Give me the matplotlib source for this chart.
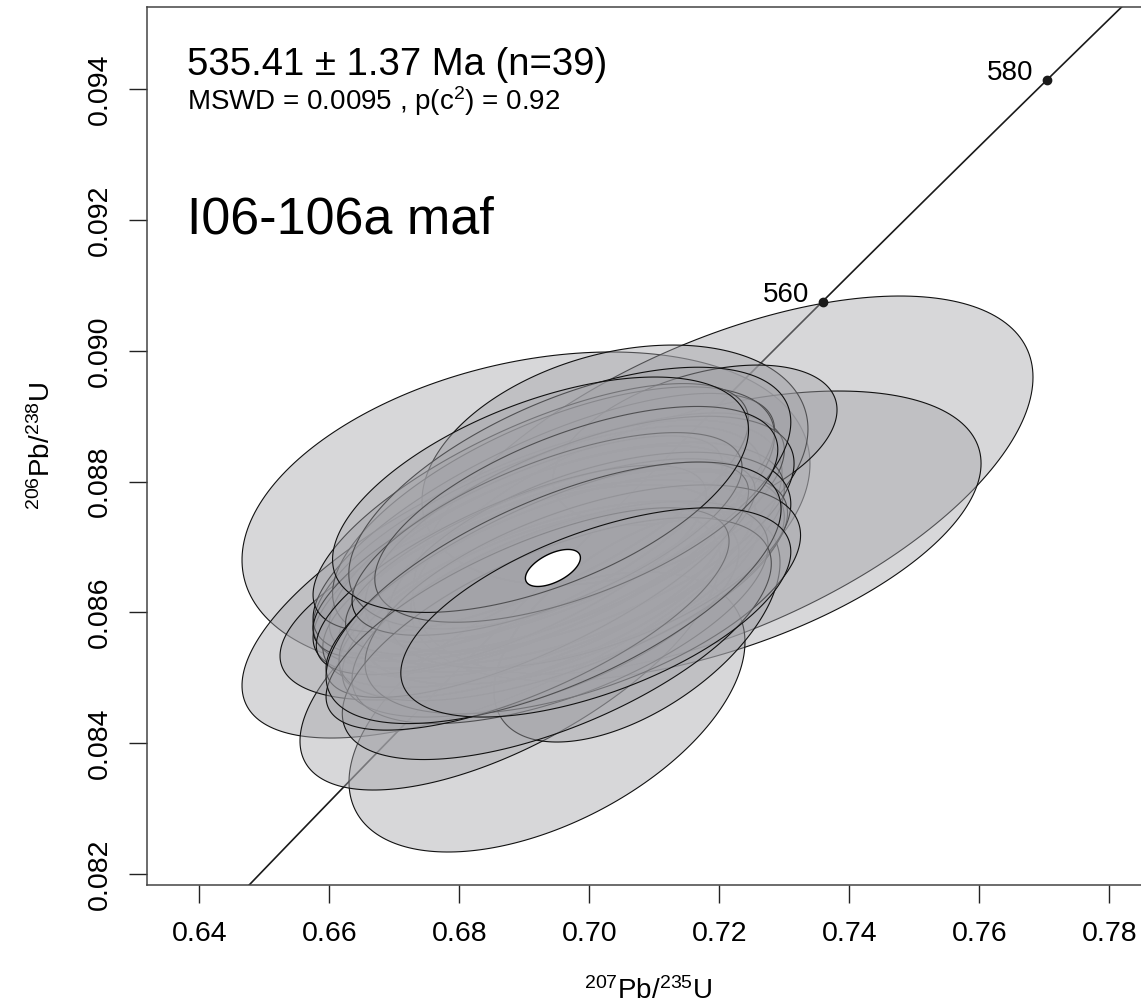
import numpy as np
import matplotlib
matplotlib.use('Agg')
import matplotlib.pyplot as plt

plt.rcParams['font.family'] = ['Liberation Sans', 'DejaVu Sans']
plt.rcParams['mathtext.fontset'] = 'custom'
plt.rcParams['mathtext.rm'] = 'Liberation Sans'
plt.rcParams['mathtext.it'] = 'Liberation Sans:italic'

# analyses: 207Pb/235U, 206Pb/238U, ellipse half-extents (x, y), error correlation
x75 = [0.69026, 0.72057, 0.71642, 0.68811, 0.69349, 0.68780, 0.70395, 0.71626, 0.68934, 0.70734,
       0.6905, 0.6920, 0.6935, 0.6950, 0.6900, 0.6965, 0.6930, 0.6915, 0.6975, 0.6945,
       0.6890, 0.6985, 0.6925, 0.6960, 0.6910, 0.6940, 0.7000, 0.6880, 0.6955, 0.6970,
       0.6920, 0.6990, 0.6935, 0.6950, 0.6905, 0.6980, 0.6945, 0.6925, 0.7010]
y68 = [0.087536, 0.087949, 0.087169, 0.086511, 0.084477, 0.085425, 0.088254, 0.088560, 0.086343, 0.085777,
       0.08680, 0.08700, 0.08660, 0.08715, 0.08640, 0.08690, 0.08735, 0.08620, 0.08655, 0.08750,
       0.08700, 0.08720, 0.08600, 0.08640, 0.08760, 0.08685, 0.08680, 0.08665, 0.08600, 0.08775,
       0.08650, 0.08620, 0.08720, 0.08560, 0.08590, 0.08750, 0.08630, 0.08780, 0.08600]
ex = [0.04369, 0.04769, 0.04385, 0.04154, 0.03046, 0.03231, 0.02969, 0.02185, 0.03692, 0.02200,
      0.0330, 0.0345, 0.0320, 0.0350, 0.0310, 0.0335, 0.0355, 0.0300, 0.0325, 0.0340,
      0.0315, 0.0330, 0.0305, 0.0345, 0.0335, 0.0315, 0.0310, 0.0300, 0.0320, 0.0340,
      0.0325, 0.0335, 0.0300, 0.0330, 0.0310, 0.0310, 0.0350, 0.0320, 0.0300]
ey = [0.002447, 0.002890, 0.002217, 0.002432, 0.002141, 0.002141, 0.001835, 0.001223, 0.001682, 0.001759,
      0.00175, 0.00185, 0.00160, 0.00190, 0.00155, 0.00170, 0.00200, 0.00150, 0.00165, 0.00195,
      0.00170, 0.00180, 0.00160, 0.00175, 0.00190, 0.00150, 0.00165, 0.00160, 0.00170, 0.00200,
      0.00180, 0.00175, 0.00155, 0.00185, 0.00170, 0.00165, 0.00200, 0.00180, 0.00160]
rho = [0.30, 0.57, 0.50, 0.67, 0.50, 0.65, 0.30, 0.44, 0.60, 0.56,
       0.68, 0.65, 0.62, 0.70, 0.60, 0.58, 0.72, 0.66, 0.55, 0.62,
       0.74, 0.60, 0.58, 0.64, 0.70, 0.68, 0.52, 0.72, 0.60, 0.58,
       0.75, 0.56, 0.66, 0.62, 0.70, 0.60, 0.64, 0.55, 0.58]

# concordia age ellipse
age_x, age_y, age_ex, age_ey, age_rho = 0.6944, 0.08668, 0.00423, 0.000283, 0.55

# concordia curve, decay constants per year
lam238, lam235 = 1.55125e-10, 9.8485e-10
conc_ages = np.linspace(500, 600, 101)
marker_ages = [560, 580]


def ellipse_xy(cx, cy, hx, hy, r):
    t = np.linspace(0, 2 * np.pi, 240)
    xs = cx + hx * np.cos(t)
    ys = cy + hy * (r * np.cos(t) + np.sqrt(1 - r ** 2) * np.sin(t))
    return xs, ys


fig = plt.figure(figsize=(11.41, 10.06), dpi=100)
ax = fig.add_axes([147.3 / 1141, 1 - 884.7 / 1006, (1150 - 147.3) / 1141, (884.7 - 7) / 1006])

ax.set_xlim(0.63200, 0.78626)
ax.set_ylim(0.081836, 0.095259)

# concordia line
cx = np.exp(lam235 * conc_ages * 1e6) - 1
cy = np.exp(lam238 * conc_ages * 1e6) - 1
ax.plot(cx, cy, color='#1a1a1a', lw=1.2, zorder=1)

# data ellipses
for i in range(len(x75)):
    xs, ys = ellipse_xy(x75[i], y68[i], ex[i], ey[i], rho[i])
    ax.fill(xs, ys, facecolor=(0.64, 0.64, 0.66, 0.43), edgecolor='#111111',
            lw=0.8, zorder=2 + i * 0.01)

# weighted concordia age ellipse
xs, ys = ellipse_xy(age_x, age_y, age_ex, age_ey, age_rho)
ax.fill(xs, ys, facecolor='white', edgecolor='black', lw=1.0, zorder=3)

# age markers
for a in marker_ages:
    mx = np.exp(lam235 * a * 1e6) - 1
    my = np.exp(lam238 * a * 1e6) - 1
    ax.plot(mx, my, 'o', color='#1a1a1a', ms=6, zorder=4)
    ax.annotate(str(a), (mx, my), xytext=(-9.5, 5), textcoords='offset points',
                ha='right', va='center', fontsize=20, zorder=4)

ax.set_xticks([0.64, 0.66, 0.68, 0.70, 0.72, 0.74, 0.76, 0.78])
ax.set_xticklabels(['0.64', '0.66', '0.68', '0.70', '0.72', '0.74', '0.76', '0.78'])
ax.set_yticks([0.082, 0.084, 0.086, 0.088, 0.090, 0.092, 0.094])
ax.set_yticklabels(['0.082', '0.084', '0.086', '0.088', '0.090', '0.092', '0.094'])
ax.tick_params(axis='both', direction='out', length=13, width=1.0, color='#222222',
               labelsize=20.5)
ax.tick_params(axis='x', pad=13)
ax.tick_params(axis='y', pad=12)
for lab in ax.get_yticklabels():
    lab.set_rotation(90)
    lab.set_va('center')

for s in ['left', 'bottom', 'top']:
    ax.spines[s].set_color('#444444')
    ax.spines[s].set_linewidth(1.1)
ax.spines['right'].set_visible(False)

ax.set_xlabel(r'$^{207}$Pb/$^{235}$U', fontsize=20, labelpad=22)
ax.set_ylabel(r'$^{206}$Pb/$^{238}$U', fontsize=20, labelpad=22)

fig.text(187 / 1141, 1 - 75 / 1006, '535.41 \u00b1 1.37 Ma (n=39)', fontsize=27.5,
         va='baseline', ha='left')
fig.text(187 / 1141, 1 - 110.5 / 1006, r'MSWD = 0.0095 , p(c$^2$) = 0.92', fontsize=20,
         va='baseline', ha='left')
fig.text(187 / 1141, 1 - 233 / 1006, 'I06-106a maf', fontsize=37.5,
         va='baseline', ha='left')

plt.savefig('out.png', dpi=100)
